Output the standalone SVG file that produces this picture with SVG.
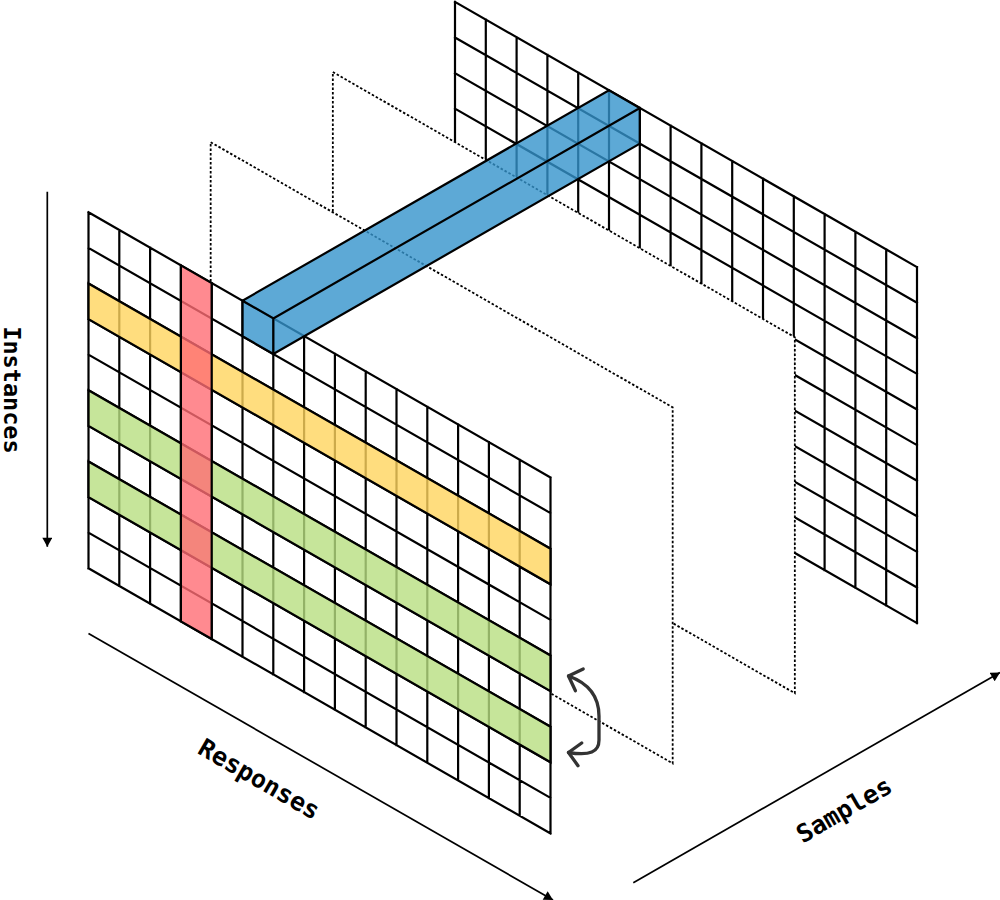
<svg xmlns="http://www.w3.org/2000/svg" width="1000" height="900" viewBox="0 0 1000 900">
<style>
.gl{fill:none;stroke:#000;stroke-width:2.2;stroke-linecap:square;vector-effect:non-scaling-stroke}
.gf{fill:#fff}
.pl{fill:#fff;stroke:#000;stroke-width:1.8;stroke-dasharray:2.5 2}
.ov{stroke:#000;stroke-width:2.2;fill-opacity:0.8;vector-effect:non-scaling-stroke}
.barf{fill:#3493CC;fill-opacity:0.8;stroke:none}
.bare{fill:none;stroke:#000;stroke-width:2.2;stroke-linejoin:miter;stroke-linecap:square}
.ax{stroke:#000;stroke-width:1.7;fill:none}
.lbl{font-family:"DejaVu Sans Mono","Liberation Mono",monospace;font-weight:bold;font-size:25px;fill:#000;text-anchor:middle}
</style>
<defs>
<marker id="tri" markerUnits="userSpaceOnUse" markerWidth="10" markerHeight="10" viewBox="0 0 9 10" refX="9" refY="5" orient="auto"><path d="M0,0 L9,5 L0,10 Z" fill="#000"/></marker>
<marker id="chev" markerUnits="userSpaceOnUse" markerWidth="1" markerHeight="1" orient="auto-start-reverse" style="overflow:visible"><path d="M-11.5,-11.5 L0,0 L-11.5,11.5" fill="none" stroke="#333" stroke-width="3.3" stroke-linecap="round" stroke-linejoin="round"/></marker>
<g id="gridShape">
<rect class="gf" x="0" y="0" width="462" height="356"/>
<path class="gl" d="M0,0V356M30.8,0V356M61.6,0V356M92.4,0V356M123.2,0V356M154,0V356M184.8,0V356M215.6,0V356M246.4,0V356M277.2,0V356M308,0V356M338.8,0V356M369.6,0V356M400.4,0V356M431.2,0V356M462,0V356M0,0H462M0,35.6H462M0,71.2H462M0,106.8H462M0,142.4H462M0,178H462M0,213.6H462M0,249.2H462M0,284.8H462M0,320.4H462M0,356H462"/>
</g>
</defs>

<g id="back-grid">
<use href="#gridShape" transform="matrix(1,0.574,0,1,455,1.9)"/>
</g>

<g id="plane-2">
<polygon class="pl" points="332.83,72.03 794.83,337.23 794.83,693.23 332.83,428.03"/>
</g>

<g id="plane-1">
<polygon class="pl" points="210.67,142.17 672.67,407.37 672.67,763.37 210.67,498.17"/>
</g>

<g id="front-grid">
<use href="#gridShape" transform="matrix(1,0.574,0,1,88.5,212.3)"/>
</g>

<g id="highlights" transform="matrix(1,0.574,0,1,88.5,212.3)">
<rect id="yellow-row" class="ov" fill="#FFD45E" x="0" y="71.2" width="462" height="35.6"/>
<rect id="green-row-1" class="ov" fill="#B8DE81" x="0" y="178" width="462" height="35.6"/>
<rect id="green-row-2" class="ov" fill="#B8DE81" x="0" y="249.2" width="462" height="35.6"/>
<rect id="red-column" class="ov" fill="#FF6D74" x="92.4" y="0" width="30.8" height="356"/>
</g>

<g id="blue-bar">
<polygon class="barf" points="242.5,300.7 273.3,318.38 639.8,107.98 609,90.3"/>
<polygon class="barf" points="273.3,318.38 273.3,353.98 639.8,143.58 639.8,107.98"/>
<polygon class="barf" points="242.5,300.7 273.3,318.38 273.3,353.98 242.5,336.3"/>
<path class="bare" d="M242.5,300.7 L273.3,318.38 L273.3,353.98 L242.5,336.3 Z M242.5,300.7 L609,90.3 L639.8,107.98 L639.8,143.58 L273.3,353.98 M273.3,318.38 L639.8,107.98"/>
</g>

<g id="connectors">
<line class="ax" x1="47.3" y1="191.7" x2="47.3" y2="546.7" marker-end="url(#tri)"/>
<line class="ax" x1="88.5" y1="633.5" x2="553" y2="900" marker-end="url(#tri)"/>
<line class="ax" x1="633.3" y1="882.7" x2="1000" y2="672.5" marker-end="url(#tri)"/>
<path id="swap-arrow" d="M568.5,676 C588,683 599,696 599,716 L599,740 C599,752 590,756 568.5,752.5" fill="none" stroke="#333" stroke-width="3.3" stroke-linecap="round" marker-start="url(#chev)" marker-end="url(#chev)"/>
</g>

<g id="labels">
<text class="lbl" style="font-size:23.5px" transform="translate(4,390) rotate(90)">Instances</text>
<text class="lbl" transform="translate(255,786.5) rotate(30)">Responses</text>
<text class="lbl" transform="translate(848.3,817.3) rotate(-30)">Samples</text>
</g>
</svg>
